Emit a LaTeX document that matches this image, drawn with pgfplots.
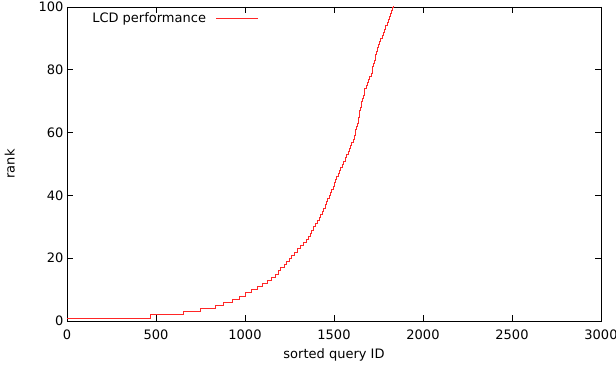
\documentclass[border=0pt]{standalone}
\usepackage{fontspec}
\setmainfont{DejaVu Sans}
\usepackage{pgfplots}
\pgfplotsset{compat=1.18}
\usetikzlibrary{calc}

% x where the rank steps up to the value on the right
\pgfplotstableread{
x     r
0     1
466   2
653   3
747   4
831   5
878   6
929   7
968   8
1000  9
1038  10
1069  11
1099  12
1125  13
1150  14
1170  15
1185  16
1200  17
1220  18
1234  19
1248  20
1262  21
1280  22
1295  23
1312  24
1328  25
1345  26
1357  27
1368  28
1375  29
1385  30
1393  31
1405  32
1415  33
1425  34
1435  35
1442  36
1450  37
1459  38
1465  39
1472  40
1480  41
1487  42
1494  43
1501  44
1508  45
1515  46
1522  47
1530  48
1538  49
1545  50
1553  51
1562  52
1571  53
1578  54
1586  55
1593  56
1600  57
1606  58
1612  59
1618  60
1622  61
1626  62
1630  63
1634  64
1637  65
1640  66
1644  67
1648  68
1652  69
1656  70
1660  71
1664  72
1668  73
1673  74
1680  75
1686  76
1692  77
1700  78
1708  79
1714  80
1718  81
1721  82
1726  83
1730  84
1735  85
1740  86
1745  87
1750  88
1755  89
1762  90
1769  91
1775  92
1782  93
1790  94
1797  95
1803  96
1810  97
1815  98
1821  99
1827  100
1833  101
}\lcd

\begin{document}
\begin{tikzpicture}
\begin{axis}[
  scale only axis, width=534pt, height=314pt,
  xmin=0, xmax=3000, ymin=0, ymax=100,
  xtick={0,500,...,3000}, ytick={0,20,...,100},
  tick align=inside, major tick length=6pt,
  tick style={black, line width=0.6pt},
  axis line style={line width=0.9pt},
  font=\fontsize{13}{15}\selectfont,
  /pgf/number format/assume math mode=true,
  /pgf/number format/set thousands separator={},
  xticklabel style={yshift=-5pt},
  xlabel={sorted query ID}, ylabel={rank},
  xlabel style={at={(axis description cs:0.5,-0.108)}, anchor=center},
  ylabel style={at={(axis description cs:-0.107,0.5)}, anchor=center},
  legend style={at={(axis description cs:0.047,0.964)}, anchor=west,
    draw=none, fill=none, inner sep=0pt,
    nodes={inner sep=0pt}, column sep=10pt},
  legend cell align=right,
  legend plot pos=right,
  legend image code/.code={\draw[#1] (0pt,0pt) -- (42pt,0pt);},
]
  \addplot[const plot, red!85!white, line width=0.7pt] table[x=x, y=r] {\lcd};
  \addlegendentry{LCD performance}
\end{axis}
\pgfresetboundingbox
\path ($(current axis.south west)+(-67pt,-45pt)$) rectangle ($(current axis.north east)+(15pt,7pt)$);
\end{tikzpicture}
\end{document}
